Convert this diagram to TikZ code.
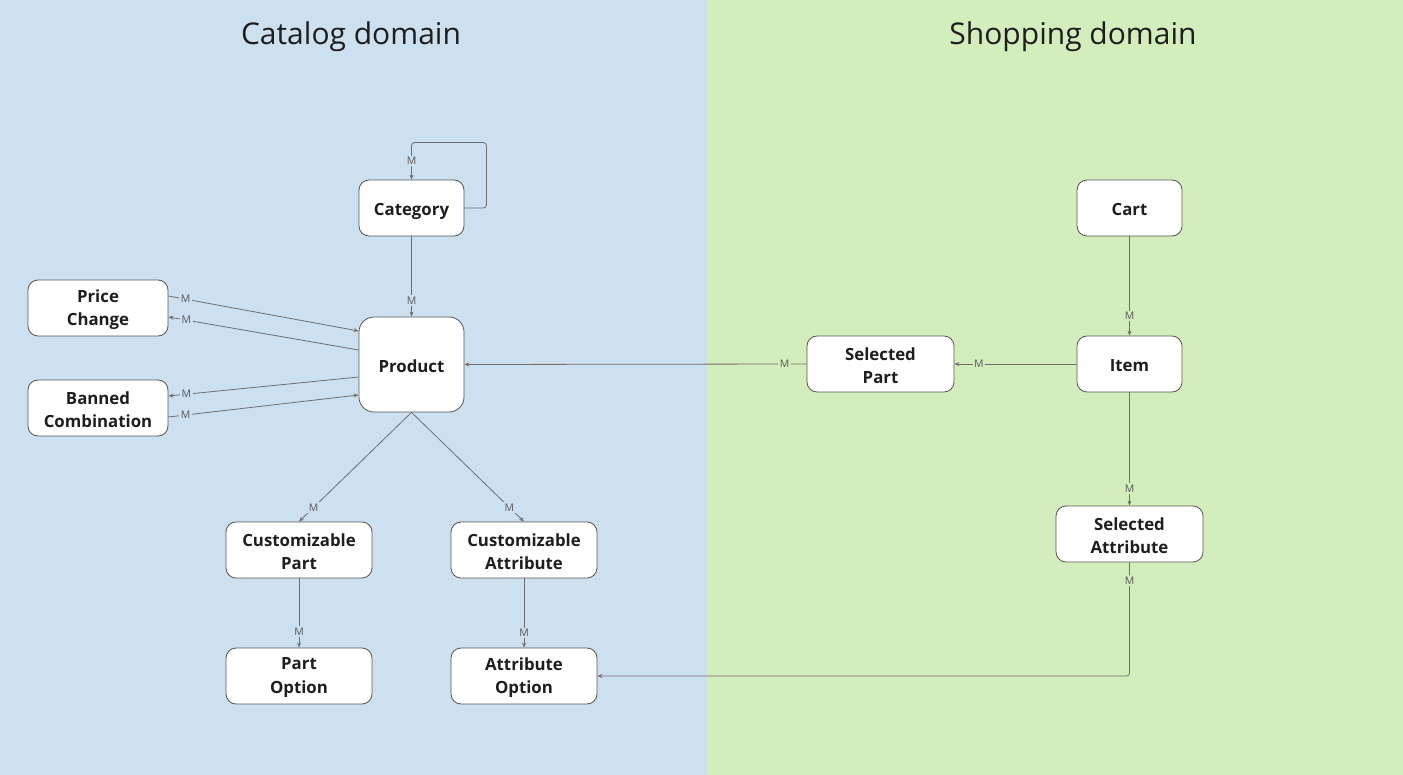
\documentclass[tikz,border=0pt]{standalone}
\usepackage{fontspec}
\setmainfont{Open Sans}
\usetikzlibrary{arrows.meta,calc}
\definecolor{bgblue}{RGB}{205,224,240}
\definecolor{bggreen}{RGB}{212,237,189}
\definecolor{linegray}{RGB}{110,110,110}
\definecolor{boxborder}{RGB}{85,85,85}
\definecolor{txt}{RGB}{30,30,30}
\tikzset{
  ent/.style={draw=boxborder, line width=0.8pt, fill=white, rounded corners=10pt, inner sep=0pt},
  enttext/.style={font=\fontsize{16.8}{23.5}\selectfont\bfseries, text=txt, align=center, inner sep=0pt, yshift=-1.5pt},
  rel/.style={draw=linegray, line width=0.8pt, -{Stealth[length=5pt,width=4pt]}},
  mlab/.style={font=\fontsize{10.5}{10.5}\selectfont, text=linegray!80!black, inner sep=1.5pt},
  mb/.style={mlab, fill=bgblue},
  mg/.style={mlab, fill=bggreen},
  title/.style={font=\fontsize{30}{30}\selectfont, text=txt}
}
\begin{document}
\begin{tikzpicture}[x=1pt,y=-1pt]
\useasboundingbox (0,0) rectangle (1403,775);
\fill[bgblue] (0,0) rectangle (707,775);
\fill[bggreen] (707,0) rectangle (1403,775);
\node[title] (t1) at (351,37) {Catalog domain};
\node[title] (t2) at (1073,37) {Shopping domain};

% entities
\node[ent, minimum width=105pt, minimum height=56pt, label={[enttext, yshift=-1.5pt]center:Category}] (cat) at (411.5,208) {};
\node[ent, minimum width=105pt, minimum height=95pt, rounded corners=15pt, label={[enttext]center:Product}] (prod) at (411.5,364.5) {};
\node[ent, minimum width=140pt, minimum height=56pt, label={[enttext]center:Price\\Change}] (pc) at (98,308) {};
\node[ent, minimum width=140pt, minimum height=56pt, label={[enttext]center:Banned\\Combination}] (bc) at (98,408) {};
\node[ent, minimum width=146pt, minimum height=56pt, label={[enttext]center:Customizable\\Part}] (cp) at (299,550) {};
\node[ent, minimum width=146pt, minimum height=56pt, label={[enttext]center:Customizable\\Attribute}] (ca) at (524,550) {};
\node[ent, minimum width=146pt, minimum height=56pt, label={[enttext]center:Part\\Option}] (po) at (299,676) {};
\node[ent, minimum width=146pt, minimum height=56pt, label={[enttext]center:Attribute\\Option}] (ao) at (524,676) {};
\node[ent, minimum width=105pt, minimum height=56pt, label={[enttext]center:Cart}] (cart) at (1129.5,208) {};
\node[ent, minimum width=105pt, minimum height=56pt, label={[enttext]center:Item}] (item) at (1129.5,364) {};
\node[ent, minimum width=147pt, minimum height=56pt, label={[enttext]center:Selected\\Part}] (sp) at (880.5,364) {};
\node[ent, minimum width=147pt, minimum height=56pt, label={[enttext]center:Selected\\Attribute}] (sa) at (1129.5,534) {};

% relations
\draw[rel, rounded corners=3pt] (cat.east) -- ([xshift=22pt]cat.east) |- ([yshift=37pt]cat.north)
  -- node[mb, pos=0.5]{M} (cat.north);
\draw[rel] (cat.south) -- node[mb, pos=0.8]{M} (prod.north);
\draw[rel] ([yshift=12pt]pc.east) -- node[mb, pos=0.09]{M} ([yshift=33.5pt]prod.west);
\draw[rel] ([yshift=14.5pt]prod.west) -- node[mb, pos=0.905]{M} ([yshift=-9pt]pc.east);
\draw[rel] ([yshift=-12.5pt]prod.west) -- node[mb, pos=0.905]{M} ([yshift=12pt]bc.east);
\draw[rel] ([yshift=-9pt]bc.east) -- node[mb, pos=0.09]{M} ([yshift=-30.5pt]prod.west);
\draw[rel] (prod.south) -- node[mb, pos=0.87]{M} (cp.north);
\draw[rel] (prod.south) -- node[mb, pos=0.87]{M} (ca.north);
\draw[rel] (cp.south) -- node[mb, pos=0.77]{M} (po.north);
\draw[rel] (ca.south) -- node[mb, pos=0.79]{M} (ao.north);
\draw[rel] (cart.south) -- node[mg, pos=0.8]{M} (item.north);
\draw[rel] (item.west) -- node[mg, pos=0.8]{M} (sp.east);
\draw[rel] (sp.west) -- node[mg, pos=0.064]{M} (prod.east);
\draw[rel] (item.south) -- node[mg, pos=0.85]{M} (sa.north);
\draw[rel, rounded corners=3pt] (sa.south) -- node[mg, pos=0.16]{M} (sa.south |- ao.east) -- (ao.east);
\end{tikzpicture}
\end{document}
